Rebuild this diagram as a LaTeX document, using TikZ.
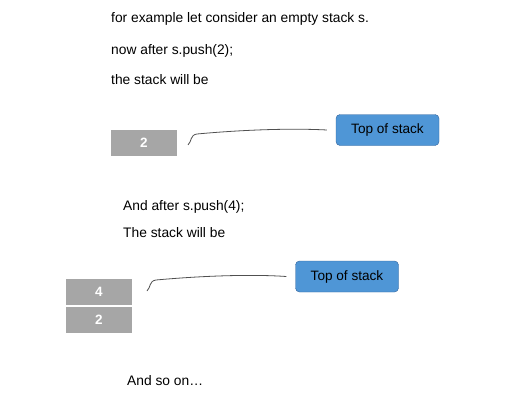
\documentclass[tikz,border=0pt]{standalone}
\usepackage{fontspec}
\setmainfont{Liberation Sans}
\usepackage{tikz}
\usetikzlibrary{positioning, calc}
\usepackage{xcolor}
\definecolor{stackgray}{RGB}{166, 166, 166}
\definecolor{calloutblue}{RGB}{79, 150, 214}
\definecolor{calloutedge}{RGB}{52, 100, 155}
\definecolor{leadergray}{RGB}{80, 80, 80}

\begin{document}
\begin{tikzpicture}[x=1pt, y=-1pt,
    txt/.style={anchor=west, inner sep=0pt, font=\fontsize{13.8}{15}\selectfont},
    cell/.style={fill=stackgray, text=white, minimum width=66pt, minimum height=26pt, inner sep=0pt, font=\fontsize{13.5}{15}\selectfont\bfseries},
    callout/.style={fill=calloutblue, draw=calloutedge, rounded corners=4pt, minimum width=103pt, minimum height=31pt, inner sep=0pt, font=\fontsize{13.6}{15}\selectfont},
    leader/.style={leadergray, line width=0.8pt}]
        \useasboundingbox (0,0) rectangle (522,412);
        % first push
        \node[txt] (intro) at (111,19) {for example let consider an empty stack s.};
        \node[txt] (pushtwo) at (111,51) {now after s.push(2);};
        \node[txt] (willbe) at (111,80) {the stack will be};
        \node[cell] (cellA) at (144,143) {2};
        \node[callout] (topA) at (387.5,130) {Top of stack};
        \coordinate (tipA) at (188,145);
        \draw[leader] (tipA) .. controls (192,141) and (190,135) .. (197,134)
          .. controls (240,130) and (290,128) .. ([xshift=-9pt]topA.west);
        % second push
        \node[txt] (pushfour) at (123,207) {And after s.push(4);};
        \node[txt] (willbeB) at (123,233) {The stack will be};
        \node[cell] (cellB) at (99,292) {4};
        \node[cell, below=1.5pt of cellB] (cellC) {2};
        \node[callout] (topB) at (347,276.5) {Top of stack};
        \coordinate (tipB) at (147,291);
        \draw[leader] (tipB) .. controls (151,287) and (149,281) .. (156,280)
          .. controls (200,276) and (250,274) .. ([xshift=-9pt]topB.west);
        \node[txt] (soon) at (127,381) {And so on…};
      \end{tikzpicture}
\end{document}
